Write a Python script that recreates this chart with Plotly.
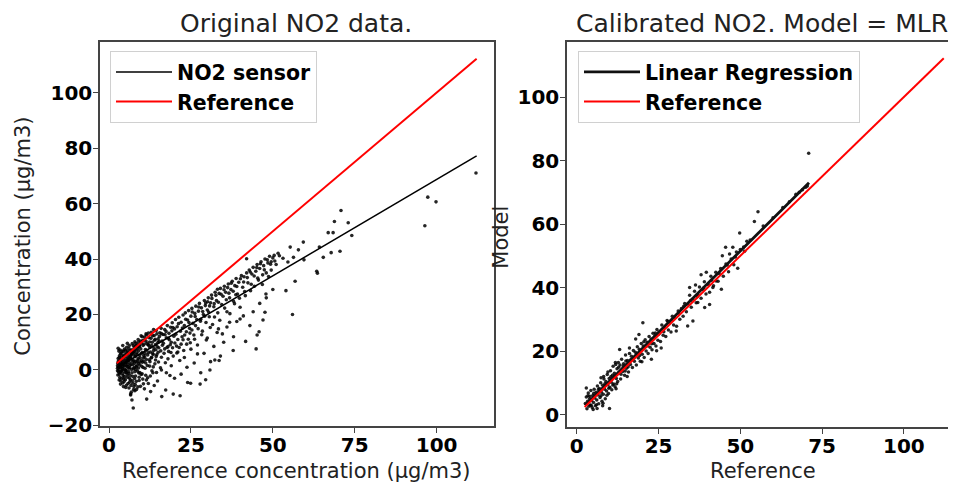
import plotly.graph_objects as go

# ---- data ----
# left panel: reference concentration vs raw NO2 sensor
orig_points = [
    (2.6, 1.5), (2.8, 3.0), (3.0, 0.2), (3.1, 4.5), (3.2, -1.5), (3.3, 2.2), (3.5, 5.8), (3.6, -0.5),
    (3.7, 1.0), (3.8, 3.5), (3.9, -3.0), (4.0, 6.8), (4.1, 0.5), (4.2, 2.8), (4.3, -2.0), (4.4, 4.8),
    (4.5, 1.8), (4.6, -4.2), (4.7, 7.5), (4.8, 3.2), (4.9, -0.8), (5.0, 5.5), (5.1, 0.0), (5.2, 2.5),
    (5.3, -5.5), (5.4, 8.2), (5.5, 4.0), (5.6, -2.6), (5.7, 1.2), (5.8, 6.2), (5.9, -1.2), (6.0, 3.6),
    (3.0, 6.8), (3.4, 7.2), (4.2, 8.8), (5.6, 9.6), (2.8, 7.8), (3.6, -4.0), (4.4, -6.0), (5.0, -3.5),
    (6.1, -6.5), (6.2, 8.8), (6.3, 0.8), (6.4, 4.6), (6.5, -3.5), (6.6, 7.0), (6.7, 2.0), (6.8, -8.0),
    (6.9, 5.4), (7.0, -1.0), (7.1, 9.5), (7.2, 3.0), (7.3, -4.8), (7.4, 6.4), (7.5, 0.5), (7.6, -6.0),
    (7.7, 8.0), (7.8, 2.4), (7.9, 10.2), (8.0, 4.8), (8.1, -2.2), (8.2, 7.2), (8.3, 1.2), (8.4, -7.0),
    (8.5, 9.0), (8.6, 5.6), (8.7, -0.4), (8.8, 3.6), (8.9, 11.0), (9.0, 6.8), (9.2, -3.8), (9.3, 8.4),
    (9.4, 1.8), (9.5, 4.4), (9.6, 10.4), (9.8, -1.6), (9.9, 6.0), (6.6, -9.0), (7.0, -10.8), (6.6, -8.7),
    (7.4, -13.7), (7.9, -7.5), (11.5, -10.5), (16.1, -9.6), (17.3, -7.2), (19.6, -8.7), (21.7, -9.3),
    (10.1, 12.0), (10.2, 2.8), (10.4, 8.8), (10.5, -5.0), (10.6, 5.2), (10.8, 10.8), (11.0, 0.6), (11.1, 7.4),
    (11.3, 13.0), (11.4, 3.8), (11.6, 9.6), (11.8, -2.8), (12.0, 6.2), (12.2, 11.6), (12.4, 1.4), (12.5, 8.2),
    (12.7, -7.8), (12.9, 13.6), (13.0, 4.6), (13.2, 10.0), (13.4, -1.0), (13.6, 7.0), (13.8, 12.4), (14.0, 2.2),
    (14.2, 9.2), (14.4, 14.2), (14.6, 5.6), (14.8, -4.0), (15.0, 11.2), (15.2, 8.0), (15.5, 13.4), (15.7, 0.8),
    (15.9, 15.0),
    (16.2, 10.4), (16.5, 12.8), (16.8, 6.0), (17.0, 14.6), (17.2, 2.6), (17.5, 11.6), (17.8, 16.0), (18.0, 8.4),
    (18.3, 13.2), (18.6, -2.0), (18.8, 15.4), (19.0, 10.0), (19.3, 17.0), (19.6, 5.0), (19.8, 12.2), (20.0, 14.8),
    (20.3, 18.2), (20.6, 8.6), (20.8, 15.6), (21.0, 11.0), (21.3, 19.0), (21.6, 3.4), (21.8, 14.0), (22.0, 17.2),
    (22.3, 12.0), (22.6, 19.8), (22.8, 7.0), (23.0, 16.0), (23.3, 20.6), (23.6, 13.8), (23.8, 1.0), (24.0, 18.0),
    (24.3, 21.4), (24.6, 15.0), (24.8, 9.8), (25.0, 19.4), (25.3, 22.2), (25.6, 16.8), (25.9, 12.6), (26.2, 20.4),
    (26.5, 23.0), (26.8, 18.2), (27.0, 5.8), (27.3, 21.2), (27.6, 24.0), (27.9, 17.6), (28.2, 22.4), (28.5, 14.0),
    (28.8, 20.0), (29.1, 25.0), (29.4, 23.2), (29.7, 10.8), (30.0, 21.6), (30.3, 26.0), (30.6, 19.2),
    (31.0, 24.2), (31.3, 27.0), (31.6, 16.4), (32.0, 22.8), (32.4, 28.0), (32.8, 25.0), (33.2, 20.6), (33.6, 27.6),
    (34.0, 29.4), (34.4, 23.6), (34.8, 26.6), (35.2, 30.2), (35.6, 28.0), (36.0, 21.0), (36.4, 31.0), (36.8, 26.0),
    (37.2, 29.0), (37.6, 32.0), (38.0, 24.8), (38.4, 30.4), (38.8, 33.0), (39.2, 27.4), (39.6, 31.6), (40.0, 22.6),
    (40.4, 34.0), (40.8, 29.8), (41.2, 33.6), (41.6, 26.8), (42.0, 35.0), (42.4, 31.4), (42.8, 36.0), (43.2, 28.6),
    (43.6, 34.6), (44.0, 37.0), (44.4, 30.2), (44.8, 35.6), (45.2, 38.0), (45.6, 32.4), (46.0, 36.6), (46.4, 39.0),
    (46.8, 30.8), (47.2, 37.6), (47.6, 40.0), (48.0, 35.0), (48.5, 38.6), (49.0, 41.0), (49.5, 36.0), (50.0, 40.4),
    (51.0, 38.0), (52.0, 41.2),
    (16.0, 0.0), (17.5, -1.0), (18.0, 4.0), (19.0, 1.5), (20.0, -3.0), (21.0, 6.5), (22.0, -1.5), (23.0, 4.5),
    (24.0, -4.5), (25.0, 7.5), (26.0, 2.5), (27.0, 9.0), (28.0, -1.0), (29.0, 6.0), (30.0, 11.5), (31.0, 3.0),
    (32.0, 8.5), (33.0, 13.5), (34.0, 5.0), (35.0, 10.0), (36.0, 15.5), (38.0, 12.0), (39.0, 17.5), (41.0, 19.5),
    (43.0, 16.0), (44.0, 21.0), (46.0, 24.0), (47.0, 18.0), (48.0, 26.0), (50.0, 29.0),
    (24.9, -4.8), (27.8, -5.1), (29.5, -3.5), (30.8, 0.0), (32.3, 3.6), (33.6, 3.4), (34.6, 13.0), (33.4, 14.8),
    (36.8, 17.2), (37.9, 7.0), (40.0, 18.4), (41.7, 10.3), (44.9, 7.6), (45.2, 12.6), (45.8, 13.8), (47.6, 20.8),
    (47.9, 27.4), (42.0, 40.1), (50.4, 41.3), (49.5, 39.0),
    (54.0, 28.6), (56.0, 20.0), (56.8, 32.0), (59.5, 39.7), (59.3, 46.1), (57.8, 43.3), (55.3, 44.3), (56.3, 40.6),
    (63.6, 34.9), (63.4, 35.6), (65.4, 40.6), (64.2, 44.3), (67.8, 42.3), (70.5, 42.8), (66.9, 49.5), (68.4, 49.5),
    (74.1, 48.5), (73.0, 53.1), (68.8, 53.5), (70.8, 57.5), (96.4, 52.0), (97.3, 62.3), (99.8, 60.6), (112.0, 71.0),
]
# extra points of the dense low-concentration cluster and the main band
orig_cluster = [
    (2.7, 2.3), (3.4, 0.9), (4.6, 3.9), (5.3, 1.4), (6.8, 5.9), (7.6, 3.3), (8.2, 0.2), (9.7, 7.6),
    (10.9, 4.7), (11.9, 9.1), (12.6, 6.5), (13.9, 10.7), (14.7, 8.4), (15.4, 12.1), (3.9, 2.1), (4.3, 5.3),
    (5.8, 4.4), (6.2, 2.7), (7.3, 6.8), (8.9, 4.1), (9.1, 8.7), (10.2, 6.3), (11.3, 10.4), (12.1, 8.9),
    (13.3, 12.3), (14.1, 11.1), (2.9, -0.7), (3.6, 3.7), (4.8, 0.3), (5.6, 6.9), (6.4, -1.9), (7.9, 5.1),
    (8.6, 2.9), (9.4, -0.9), (10.6, 3.1), (11.7, 1.6), (12.9, 4.3), (13.7, 7.9), (14.9, 9.9), (15.8, 6.9),
    (3.2, 5.1), (4.1, -1.3), (5.0, 7.1), (6.0, 0.6), (7.0, 3.9), (7.8, -3.1), (8.4, 6.1), (9.0, 2.3),
    (9.9, 9.7), (10.4, 0.9), (11.0, 5.9), (12.3, 3.7), (13.1, -0.3), (14.4, 4.9), (15.1, 2.9),
    (3.3, -2.7), (4.5, -3.3), (5.2, -0.9), (6.3, -4.4), (7.2, -2.3), (8.0, -5.3), (9.1, -1.1), (10.3, -3.3),
    (11.2, -1.9), (12.0, -4.9), (13.5, 1.1), (14.5, -0.9), (2.6, 0.6), (3.0, 2.9), (3.5, 1.6), (3.8, 4.6),
    (4.2, 1.1), (4.9, 2.6), (5.4, 3.1), (5.9, 5.3), (6.5, 4.1), (7.0, 7.3), (7.5, 5.9), (8.0, 8.6),
    (8.7, 7.7), (9.3, 5.3), (9.9, 3.4), (10.7, 9.3), (11.5, 7.1), (12.4, 10.1), (13.0, 8.8), (13.5, 5.6),
    (14.3, 7.3), (15.3, 10.3), (16.0, 13.1), (16.6, 9.6), (17.4, 13.9), (18.1, 11.4), (18.7, 9.1), (19.5, 15.3),
    (16.3, 8.9), (17.1, 12.7), (18.4, 10.9), (19.2, 14.1), (20.4, 12.9), (21.2, 16.7), (22.4, 15.1), (23.4, 18.3),
    (24.4, 17.1), (25.4, 20.9), (26.3, 19.3), (27.4, 22.7), (28.6, 21.1), (29.5, 24.1), (30.7, 23.1),
    (17.7, 8.1), (18.9, 6.3), (20.1, 9.7), (21.4, 8.1), (22.6, 10.9), (23.7, 9.3), (24.7, 13.3), (26.1, 11.1),
    (27.2, 14.9), (28.3, 12.7), (29.6, 17.1), (30.9, 15.3), (32.2, 19.1), (33.8, 17.9), (35.3, 22.3), (36.9, 20.3),
    (38.3, 23.9), (39.8, 25.9), (41.4, 28.3), (43.4, 30.9), (45.4, 33.1), (46.9, 34.3), (48.7, 33.7),
    (30.1, 24.6), (31.4, 25.8), (32.6, 26.9), (33.1, 29.1), (34.2, 27.3), (35.1, 28.9), (36.2, 29.7), (37.3, 31.3),
    (37.9, 28.4), (39.0, 30.1), (40.1, 32.9), (41.1, 31.7), (42.2, 33.3), (43.1, 35.3), (44.3, 33.9), (45.1, 36.9),
    (46.2, 38.3), (47.4, 36.1), (48.3, 39.7), (49.3, 38.1), (50.6, 39.3), (51.6, 42.1), (53.1, 40.3), (54.6, 38.9),
    (30.4, 20.9), (32.1, 23.9), (33.4, 24.4), (35.8, 25.3), (36.6, 27.7), (38.7, 27.1),
]
orig_dense = [
    (2.7, -1.8), (3.1, -3.6), (3.5, -5.1), (3.9, -0.2), (4.2, -4.7), (4.7, -2.4), (5.1, -6.3), (5.5, -1.7),
    (5.8, -4.9), (6.2, -2.9), (6.7, -5.6), (7.1, -3.9), (7.5, -7.1), (7.9, -0.6), (8.3, -4.1), (8.8, -6.1),
    (9.2, -2.6), (9.6, -5.9), (10.1, -1.4), (10.8, -6.8), (11.4, -3.6), (12.6, -2.2), (13.8, -5.6),
    (2.8, 4.1), (3.3, 3.3), (3.7, 6.1), (4.0, 2.4), (4.4, 6.6), (4.9, 4.9), (5.3, 6.0), (5.7, 3.5),
    (6.1, 7.7), (6.6, 5.0), (7.0, 6.0), (7.4, 8.8), (7.8, 6.9), (8.2, 9.6), (8.6, 8.3), (9.0, 10.0),
    (9.4, 9.1), (9.8, 12.3), (10.3, 10.6), (10.8, 11.9), (11.4, 12.6), (12.0, 13.3), (12.8, 11.4),
    (13.6, 14.6), (14.6, 13.0), (2.6, -0.3), (3.0, 1.2), (3.4, -0.9), (3.8, 1.9), (4.3, 0.0), (4.7, 1.5),
    (5.2, -0.2), (5.6, 2.0), (6.0, -0.6), (6.4, 1.6), (6.9, 0.2), (7.3, 1.9), (7.7, 0.9), (8.1, 3.1),
    (8.5, 1.5), (9.0, 0.7), (9.5, 2.9), (10.0, 1.3), (10.5, 4.3), (11.2, 2.5), (11.8, 5.4), (12.5, 3.0),
    (13.3, 6.0), (14.2, 3.6), (15.0, 6.4), (16.0, 4.6), (17.0, 7.6), (18.2, 6.7), (19.4, 8.0), (20.7, 6.1),
    (22.0, 9.3), (23.1, 12.6), (24.2, 11.1), (25.3, 14.4), (26.4, 16.0), (28.0, 18.3), (29.2, 19.4),
]
# fitted sensor line and 1:1 reference line (x, y end points)
line_x = [2.4, 112.2]
sensor_fit_y = [0.8, 77.2]
reference_y = [2.4, 112.2]

# right panel: reference vs MLR-calibrated model
calib_points = [
    (2.6, 3.5), (2.9, 5.5), (3.1, 1.8), (3.3, 4.2), (3.5, 6.8), (3.7, 2.6), (3.9, 5.0), (4.1, 3.0),
    (4.3, 7.6), (4.5, 4.4), (4.7, 2.2), (4.9, 6.0), (5.1, 3.8), (5.3, 8.0), (5.5, 5.2), (5.7, 2.8),
    (5.9, 7.0), (6.1, 4.6), (6.3, 9.0), (6.5, 6.2), (6.7, 3.4), (6.9, 8.2), (7.1, 5.4), (7.3, 10.0),
    (7.5, 7.0), (7.7, 4.2), (7.9, 9.2), (8.1, 6.4), (8.3, 11.2), (8.5, 8.0), (8.7, 5.0), (8.9, 10.4),
    (9.1, 7.4), (9.3, 12.6), (9.5, 9.4), (9.7, 6.6), (9.9, 11.4), (10.1, 8.6), (10.3, 13.8), (10.5, 10.2),
    (10.7, 7.8), (10.9, 12.4), (11.1, 15.2), (11.3, 9.6), (11.5, 13.0), (11.7, 8.8), (11.9, 15.8), (12.1, 11.4),
    (12.3, 14.4), (12.5, 10.4), (12.7, 16.4), (12.9, 13.2), (2.9, 8.4), (10.0, 1.9), (4.0, 5.8), (5.0, 1.6),
    (13.2, 15.6), (13.4, 11.2), (13.7, 17.4), (14.0, 13.6), (14.3, 16.0), (14.6, 12.4), (14.9, 18.8), (15.2, 14.6),
    (15.5, 17.0), (15.8, 13.4), (16.1, 19.2), (16.4, 15.8), (16.7, 18.4), (17.0, 14.8), (17.3, 20.2), (17.6, 16.8),
    (17.9, 19.6), (18.2, 15.6), (18.5, 21.4), (18.8, 17.8), (19.1, 20.6), (19.4, 16.8), (19.7, 22.4), (20.0, 19.0),
    (20.3, 21.6), (20.6, 18.0), (20.9, 23.6), (21.2, 20.0), (21.5, 22.8), (21.8, 19.2), (22.1, 24.6), (22.4, 21.2),
    (22.7, 23.8), (23.0, 20.4), (23.3, 25.6), (23.6, 22.4), (23.9, 24.8), (24.2, 21.6), (24.5, 26.8), (24.8, 23.4),
    (13.1, 20.5), (14.8, 13.7), (19.0, 25.2), (20.2, 28.9), (22.8, 17.4), (25.8, 21.0),
    (25.2, 26.0), (25.6, 23.0), (26.0, 28.2), (26.4, 25.0), (26.8, 27.4), (27.2, 24.6), (27.6, 29.6), (28.0, 26.6),
    (28.4, 29.0), (28.8, 26.0), (29.2, 31.0), (29.6, 28.2), (30.0, 30.6), (30.5, 27.8), (31.0, 32.6), (31.5, 30.0),
    (32.0, 33.4), (32.5, 31.0), (33.0, 35.0), (33.5, 32.4), (34.0, 34.8), (34.5, 37.6), (35.0, 33.8), (35.5, 36.4),
    (36.0, 38.8), (36.5, 35.2), (37.0, 37.8), (37.5, 40.2), (38.0, 36.6), (38.5, 39.4), (39.0, 41.8), (39.5, 38.0),
    (30.4, 26.3), (33.9, 27.9), (35.5, 29.5), (39.1, 33.7), (40.6, 34.7), (41.6, 40.0), (36.3, 40.8), (34.5, 40.0),
    (37.0, 35.3), (38.0, 44.0), (39.6, 44.8), (42.6, 42.1), (44.2, 39.5), (40.6, 38.5),
    (40.2, 41.0), (41.0, 43.6), (41.8, 40.6), (42.5, 44.8), (43.2, 42.0), (44.0, 46.0), (44.8, 43.6), (45.6, 47.4),
    (46.4, 45.0), (47.2, 49.0), (48.0, 47.2), (48.8, 51.2), (50.0, 52.0), (51.0, 52.8), (52.0, 54.6), (53.0, 55.0),
    (57.0, 59.4), (60.0, 62.0), (63.0, 65.2), (65.0, 67.0), (67.0, 69.4), (68.0, 70.0), (69.0, 70.8), (70.0, 71.6),
    (70.5, 72.0), (44.5, 50.0), (45.5, 52.7), (46.7, 50.6), (47.7, 52.7), (51.3, 51.4), (49.2, 46.1), (49.8, 57.2),
    (54.3, 60.8), (55.4, 63.9), (70.9, 82.3),
]
calib_cluster = [
    (3.4, 5.9), (4.4, 2.9), (5.2, 6.7), (6.0, 3.1), (6.6, 7.9), (7.4, 5.9), (8.0, 3.6), (8.6, 9.7),
    (9.2, 6.1), (9.8, 8.3), (10.4, 11.9), (11.0, 9.3), (11.6, 12.1), (12.2, 9.7), (12.8, 14.9), (13.5, 12.7),
    (14.2, 15.3), (15.0, 16.9), (15.7, 15.1), (16.5, 17.3), (17.4, 17.9), (18.3, 19.1), (19.2, 18.6), (20.5, 22.9),
    (21.6, 21.7), (22.9, 22.3), (24.0, 25.7), (25.0, 25.3), (26.6, 26.1), (27.9, 29.3), (29.1, 29.7), (31.2, 31.9),
    (32.7, 34.1), (34.8, 35.9), (36.8, 37.1), (38.8, 39.9), (41.2, 42.3), (43.5, 44.4), (46.0, 47.1), (48.5, 49.6),
    (11.8, 16.4), (9.5, 13.4), (8.2, 12.0), (7.4, 11.6), (16.1, 21.0), (18.0, 23.8), (6.2, 1.9), (7.9, 2.8),
    (12.0, 8.1), (15.4, 12.0), (19.9, 16.6), (24.4, 20.1),
]
calib_line_x = [2.5, 71.0]
calib_fit_y = [2.9, 73.0]

# page placement: the browser keeps an 8px body margin and the snapshot comes out
# vertically squeezed by about 2.5%, so target pixels are mapped back to figure pixels
OFF = 8
SY = 0.975
W, H = 940, 500
FONT = "DejaVu Sans"
AXIS_COL = "#444444"


def fx(p):
    return (p - OFF) / W


def fy(p):
    return 1 - ((p - OFF) / SY) / H


fig = go.Figure()

ox, oy = zip(*(orig_points + orig_cluster + orig_dense))
fig.add_trace(go.Scatter(x=ox, y=oy, mode="markers", showlegend=False,
                         marker=dict(color="black", size=3.6, opacity=0.85),
                         xaxis="x", yaxis="y"))
fig.add_trace(go.Scatter(x=line_x, y=sensor_fit_y, mode="lines", name="NO2 sensor",
                         line=dict(color="black", width=1.5), xaxis="x", yaxis="y",
                         legend="legend"))
fig.add_trace(go.Scatter(x=line_x, y=reference_y, mode="lines", name="Reference",
                         line=dict(color="red", width=2), xaxis="x", yaxis="y",
                         legend="legend"))

cx, cy = zip(*(calib_points + calib_cluster))
fig.add_trace(go.Scatter(x=cx, y=cy, mode="markers", showlegend=False,
                         marker=dict(color="black", size=3.5, opacity=0.85),
                         xaxis="x2", yaxis="y2"))
fig.add_trace(go.Scatter(x=calib_line_x, y=calib_fit_y, mode="lines", name="Linear Regression",
                         line=dict(color="#111111", width=2.8), xaxis="x2", yaxis="y2",
                         legend="legend2"))
fig.add_trace(go.Scatter(x=line_x, y=reference_y, mode="lines", name="Reference",
                         line=dict(color="red", width=2), xaxis="x2", yaxis="y2",
                         legend="legend2"))

axis_common = dict(showline=True, linecolor=AXIS_COL, linewidth=1.5, ticks="outside",
                   ticklen=5, tickwidth=1.2, tickcolor=AXIS_COL, showgrid=False,
                   zeroline=False, tickfont=dict(family=FONT, size=20, color="black", weight="bold"))

legend_common = dict(bgcolor="rgba(255,255,255,0.85)", bordercolor="#d0d0d0", borderwidth=1,
                     font=dict(family=FONT, size=20.5, color="black", weight="bold"),
                     xanchor="left", yanchor="top", tracegroupgap=0, itemwidth=56)

fig.update_layout(
    width=W, height=H,
    margin=dict(l=0, r=0, t=0, b=0),
    paper_bgcolor="white", plot_bgcolor="white",
    xaxis=dict(domain=[fx(100), fx(494)], range=[-2.75, 117.5], anchor="y", mirror=True,
               tickvals=[0, 25, 50, 75, 100], ticklabelstandoff=-5, **axis_common),
    yaxis=dict(domain=[fy(425), fy(42)], range=[-20.3, 118.2], anchor="x", mirror=True,
               tickvals=[-20, 0, 20, 40, 60, 80, 100], ticklabelstandoff=-3, **axis_common),
    xaxis2=dict(domain=[fx(567), 1.0], range=[-3.0, 113.5], anchor="y2", mirror=True,
                tickvals=[0, 25, 50, 75, 100], ticklabelstandoff=-5, **axis_common),
    yaxis2=dict(domain=[fy(426), fy(42)], range=[-4.0, 117.3], anchor="x2", mirror=False,
                tickvals=[0, 20, 40, 60, 80, 100], ticklabelstandoff=-3, **axis_common),
    legend=dict(x=fx(110), y=fy(51), **legend_common),
    legend2=dict(x=fx(578), y=fy(51), **legend_common),
    showlegend=True,
)

label_font = dict(family=FONT, size=21, color="#222222")
title_font = dict(family=FONT, size=25, color="#222222")
texts = [
    ("Original NO2 data.", 296, 23, 0, title_font),
    ("Calibrated NO2. Model = MLR", 762, 23, 0, title_font),
    ("Reference concentration (µg/m3)", 296, 470, 0, label_font),
    ("Reference", 763, 470, 0, label_font),
    ("Concentration (µg/m3)", 23, 236, -90, label_font),
    ("Model", 501, 237, -90, label_font),
]
for txt, x, y, ang, fnt in texts:
    fig.add_annotation(text=txt, x=fx(x), y=fy(y), xref="paper", yref="paper",
                       xanchor="center", yanchor="middle", showarrow=False,
                       textangle=ang, font=fnt)

fig.write_html("out.html")
